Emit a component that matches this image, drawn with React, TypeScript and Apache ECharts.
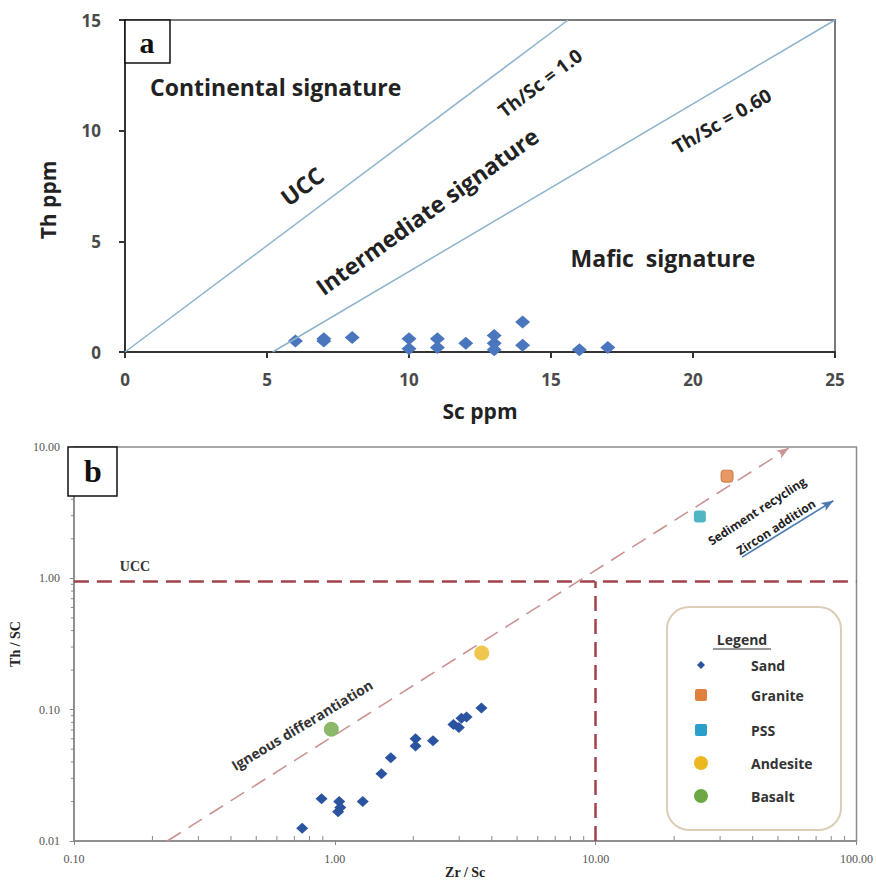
import React, { useEffect, useRef } from 'react';
import * as echarts from 'echarts';

// ---------- Panel a : Th vs Sc (ppm) ----------
const scPpm = [6, 7, 7, 8, 10, 10, 11, 11, 12, 13, 13, 13, 14, 14, 16, 17];
const thPpm = [0.5, 0.5, 0.6, 0.65, 0.6, 0.15, 0.6, 0.2, 0.4, 0.75, 0.4, 0.1, 1.35, 0.3, 0.1, 0.2];
const lineThSc10 = [[0, 0], [15.6, 15]];
const lineThSc060 = [[5.2, 0], [25, 15]];

// ---------- Panel b : Th/Sc vs Zr/Sc (log-log) ----------
const sandZrSc = [0.75, 0.89, 1.04, 1.05, 1.03, 1.28, 1.51, 1.64, 2.04, 2.04, 2.38, 2.85, 2.99, 3.06, 3.2, 3.65];
const sandThSc = [0.0125, 0.021, 0.02, 0.018, 0.0167, 0.02, 0.0325, 0.043, 0.06, 0.053, 0.058, 0.077, 0.073, 0.086, 0.088, 0.103];
const granitePt = [31.9, 6.0];
const pssPt = [25.1, 2.96];
const andesitePt = [3.66, 0.27];
const basaltPt = [0.97, 0.071];
const uccThSc = 0.95;
const uccZrSc = 10;
const igneousTrend = [[0.228, 0.01], [55, 9.8]];
const zirconArrow = [[36.4, 1.45], [81.5, 3.9]];
const minorX = [0.2, 0.3, 0.4, 0.5, 0.6, 0.7, 0.8, 0.9, 2, 3, 4, 5, 6, 7, 8, 9, 20, 30, 40, 50, 60, 70, 80, 90];
const minorY = [0.02, 0.03, 0.04, 0.05, 0.06, 0.07, 0.08, 0.09, 0.2, 0.3, 0.4, 0.5, 0.6, 0.7, 0.8, 0.9, 2, 3, 4, 5, 6, 7, 8, 9];

const legendNames = ['Sand', 'Granite', 'PSS', 'Andesite', 'Basalt'];

const SANS = 'Open Sans';
const SERIF = 'Liberation Serif';
const deg = (d: number) => (d * Math.PI) / 180;

export default function App() {
  const ref = useRef<HTMLDivElement>(null);
  useEffect(() => {
    if (!ref.current) return;
    const chart = echarts.init(ref.current, undefined, { renderer: 'svg' });

    const labelA = { fontFamily: SANS, fontWeight: 'bold', fontSize: 17, color: '#4a4a4a' };
    const labelB = { fontFamily: SERIF, fontSize: 12, color: '#555' };
    const big = `bold 23px '${SANS}'`;

    const option: any = {
      animation: false,
      backgroundColor: '#fff',
      grid: [
        { left: 125, top: 20, width: 710, height: 332, show: true, borderColor: '#7a7a7a', borderWidth: 2 },
        { left: 70, top: 447, width: 787, height: 394, show: true, borderColor: '#8c8c8c', borderWidth: 1.5 },
      ],
      xAxis: [
        {
          gridIndex: 0, type: 'value', min: 0, max: 25, interval: 5,
          name: 'Sc ppm', nameLocation: 'middle', nameGap: 48,
          nameTextStyle: { fontFamily: SANS, fontWeight: 'bold', fontSize: 21, color: '#222' },
          axisLine: { onZero: false, lineStyle: { color: '#333', width: 2 } },
          axisTick: { length: 6, lineStyle: { color: '#333', width: 2 } },
          axisLabel: { margin: 19, ...labelA },
          splitLine: { show: false },
        },
        {
          gridIndex: 1, type: 'log', logBase: 10, min: 0.1, max: 100,
          name: 'Zr / Sc', nameLocation: 'middle', nameGap: 24,
          nameTextStyle: { fontFamily: SERIF, fontWeight: 'bold', fontSize: 14, color: '#222' },
          axisLine: { onZero: false, lineStyle: { color: '#888', width: 1.5 } },
          axisTick: { length: 4, lineStyle: { color: '#888' } },
          axisLabel: { margin: 12, formatter: (v: number) => v.toFixed(2), ...labelB },
          splitLine: { show: false },
        },
      ],
      yAxis: [
        {
          gridIndex: 0, type: 'value', min: 0, max: 15, interval: 5,
          axisLine: { onZero: false, lineStyle: { color: '#333', width: 2 } },
          axisTick: { length: 6, lineStyle: { color: '#333', width: 2 } },
          axisLabel: { margin: 24, ...labelA },
          splitLine: { show: false },
        },
        {
          gridIndex: 1, type: 'log', logBase: 10, min: 0.01, max: 10,
          name: 'Th / SC', nameLocation: 'middle', nameGap: 42, nameRotate: 90,
          nameTextStyle: { fontFamily: SERIF, fontWeight: 'bold', fontSize: 14, color: '#222' },
          axisLine: { onZero: false, lineStyle: { color: '#888', width: 1.5 } },
          axisTick: { length: 4, lineStyle: { color: '#888' } },
          axisLabel: { margin: 14, formatter: (v: number) => v.toFixed(2), ...labelB },
          splitLine: { show: false },
        },
      ],
      series: [
        {
          type: 'line', xAxisIndex: 0, yAxisIndex: 0, data: lineThSc10, symbol: 'none',
          lineStyle: { color: '#8db3cd', width: 1.5 }, silent: true,
        },
        {
          type: 'line', xAxisIndex: 0, yAxisIndex: 0, data: lineThSc060, symbol: 'none',
          lineStyle: { color: '#8db3cd', width: 1.5 }, silent: true,
        },
        {
          name: 'Sand (a)', type: 'scatter', xAxisIndex: 0, yAxisIndex: 0,
          data: scPpm.map((x, i) => [x, thPpm[i]]),
          symbol: 'diamond', symbolSize: [15, 13], itemStyle: { color: '#4a76bd', opacity: 1 },
        },
        {
          name: 'Sand', type: 'scatter', xAxisIndex: 1, yAxisIndex: 1,
          data: sandZrSc.map((x, i) => [x, sandThSc[i]]),
          symbol: 'diamond', symbolSize: [12, 11], itemStyle: { color: '#2a53a0', opacity: 1 }, z: 5,
        },
        {
          name: 'Granite', type: 'scatter', xAxisIndex: 1, yAxisIndex: 1, data: [granitePt],
          symbol: 'roundRect', symbolSize: 12, itemStyle: { color: '#e0803e', borderColor: '#c86a2a', borderWidth: 1 }, z: 5,
        },
        {
          name: 'PSS', type: 'scatter', xAxisIndex: 1, yAxisIndex: 1, data: [pssPt],
          symbol: 'roundRect', symbolSize: 12, itemStyle: { color: '#27a3b5' }, z: 5,
        },
        {
          name: 'Andesite', type: 'scatter', xAxisIndex: 1, yAxisIndex: 1, data: [andesitePt],
          symbol: 'circle', symbolSize: 15, itemStyle: { color: '#ebb91f' }, z: 5,
        },
        {
          name: 'Basalt', type: 'scatter', xAxisIndex: 1, yAxisIndex: 1, data: [basaltPt],
          symbol: 'circle', symbolSize: 15, itemStyle: { color: '#6ea844' }, z: 5,
        },
        {
          type: 'line', xAxisIndex: 1, yAxisIndex: 1, data: [], silent: true,
          markLine: {
            silent: true, animation: false, symbol: ['none', 'none'], label: { show: false },
            data: [
              [
                { coord: [0.1, uccThSc], lineStyle: { color: '#a3414a', width: 2.5, type: [15, 8] } },
                { coord: [100, uccThSc] },
              ],
              [
                { coord: [uccZrSc, 0.01], lineStyle: { color: '#a3414a', width: 2.5, type: [15, 8] } },
                { coord: [uccZrSc, uccThSc] },
              ],
              [
                { coord: igneousTrend[0], lineStyle: { color: '#cc9393', width: 1.6, type: [16, 9] } },
                { coord: igneousTrend[1], symbol: 'arrow', symbolSize: [7, 12] },
              ],
              [
                { coord: zirconArrow[0], lineStyle: { color: '#4a7ab0', width: 1.6, type: 'solid' } },
                { coord: zirconArrow[1], symbol: 'arrow', symbolSize: [7, 12] },
              ],
            ],
          },
        },
        {
          type: 'custom', xAxisIndex: 1, yAxisIndex: 1, silent: true, clip: false,
          data: minorX.map((v) => [v, 0.01]),
          renderItem: (params: any, api: any) => {
            const p = api.coord([api.value(0), api.value(1)]);
            return { type: 'line', shape: { x1: p[0], y1: p[1], x2: p[0], y2: p[1] - 5 }, style: { stroke: '#888', lineWidth: 1 } };
          },
        },
        {
          type: 'custom', xAxisIndex: 1, yAxisIndex: 1, silent: true, clip: false,
          data: minorY.map((v) => [0.1, v]),
          renderItem: (params: any, api: any) => {
            const p = api.coord([api.value(0), api.value(1)]);
            return { type: 'line', shape: { x1: p[0] - 3, y1: p[1], x2: p[0] + 1, y2: p[1] }, style: { stroke: '#888', lineWidth: 1 } };
          },
        },
      ],
      graphic: [
        // panel a annotations
        { type: 'text', x: 48, y: 200, rotation: deg(90), z: 101, style: { text: 'Th ppm', font: `bold 21px '${SANS}'`, fill: '#222', align: 'center', verticalAlign: 'middle' } },
        { type: 'rect', shape: { x: 125, y: 20, width: 45, height: 43 }, style: { fill: '#fff', stroke: '#111', lineWidth: 1.5 }, z: 100 },
        { type: 'text', x: 147, y: 42, z: 101, style: { text: 'a', font: `bold 30px ${SERIF}`, fill: '#111', align: 'center', verticalAlign: 'middle' } },
        { type: 'text', x: 150, y: 87, z: 101, style: { text: 'Continental signature', font: big, fill: '#222', align: 'left', verticalAlign: 'middle' } },
        { type: 'text', x: 302, y: 186, rotation: deg(37), z: 101, style: { text: 'UCC', font: big, fill: '#222', align: 'center', verticalAlign: 'middle' } },
        { type: 'text', x: 540, y: 83, rotation: deg(37), z: 101, style: { text: 'Th/Sc = 1.0', font: `bold 19px '${SANS}'`, fill: '#222', align: 'center', verticalAlign: 'middle' } },
        { type: 'text', x: 427, y: 211, rotation: deg(35.7), z: 101, style: { text: 'Intermediate signature', font: big, fill: '#222', align: 'center', verticalAlign: 'middle' } },
        { type: 'text', x: 722, y: 121, rotation: deg(30), z: 101, style: { text: 'Th/Sc = 0.60', font: `bold 19px '${SANS}'`, fill: '#222', align: 'center', verticalAlign: 'middle' } },
        { type: 'text', x: 663, y: 258, z: 101, style: { text: 'Mafic  signature', font: big, fill: '#222', align: 'center', verticalAlign: 'middle' } },
        // panel b annotations
        { type: 'rect', shape: { x: 68, y: 447, width: 49, height: 49 }, style: { fill: '#fff', stroke: '#111', lineWidth: 1.5 }, z: 100 },
        { type: 'text', x: 93, y: 471, z: 101, style: { text: 'b', font: `bold 32px ${SERIF}`, fill: '#111', align: 'center', verticalAlign: 'middle' } },
        { type: 'text', x: 135, y: 566, z: 101, style: { text: 'UCC', font: `bold 14px ${SERIF}`, fill: '#333', align: 'center', verticalAlign: 'middle' } },
        { type: 'text', x: 302, y: 725, rotation: deg(31), z: 101, style: { text: 'Igneous differantiation', font: `bold 14px '${SANS}'`, fill: '#333', align: 'center', verticalAlign: 'middle' } },
        { type: 'text', x: 757, y: 511, rotation: deg(33), z: 101, style: { text: 'Sediment recycling', font: `bold 12px '${SANS}'`, fill: '#222', align: 'center', verticalAlign: 'middle' } },
        { type: 'text', x: 776, y: 527, rotation: deg(33), z: 101, style: { text: 'Zircon addition', font: `bold 12px '${SANS}'`, fill: '#222', align: 'center', verticalAlign: 'middle' } },
        // legend box
        { type: 'rect', shape: { x: 667, y: 607, width: 174, height: 223, r: 22 }, style: { fill: '#fff', stroke: '#dccdb6', lineWidth: 2 }, z: 90 },
        { type: 'text', x: 742, y: 639, z: 101, style: { text: 'Legend', font: `bold 14px '${SANS}'`, fill: '#333', align: 'center', verticalAlign: 'middle' } },
        { type: 'line', shape: { x1: 713, y1: 649, x2: 771, y2: 649 }, style: { stroke: '#333', lineWidth: 1 }, z: 101 },
        { type: 'polygon', shape: { points: [[701, 661], [705, 665], [701, 669], [697, 665]] }, style: { fill: '#2a53a0' }, z: 101 },
        { type: 'rect', shape: { x: 695, y: 689, width: 12, height: 12, r: 2 }, style: { fill: '#e0803e' }, z: 101 },
        { type: 'rect', shape: { x: 695, y: 724, width: 12, height: 12, r: 2 }, style: { fill: '#2a9fcc' }, z: 101 },
        { type: 'circle', shape: { cx: 701, cy: 763, r: 7 }, style: { fill: '#ebb91f' }, z: 101 },
        { type: 'circle', shape: { cx: 701, cy: 796, r: 7 }, style: { fill: '#6ea844' }, z: 101 },
        ...legendNames.map((n, i) => ({
          type: 'text', x: 751, y: [665, 695, 730, 763, 796][i], z: 101,
          style: { text: n, font: `bold 14px '${SANS}'`, fill: '#333', align: 'left', verticalAlign: 'middle' },
        })),
      ],
    };
    chart.setOption(option);
    return () => chart.dispose();
  }, []);
  return <div ref={ref} style={{ position: 'absolute', left: 0, top: 0, width: 876, height: 881 }} />;
}
